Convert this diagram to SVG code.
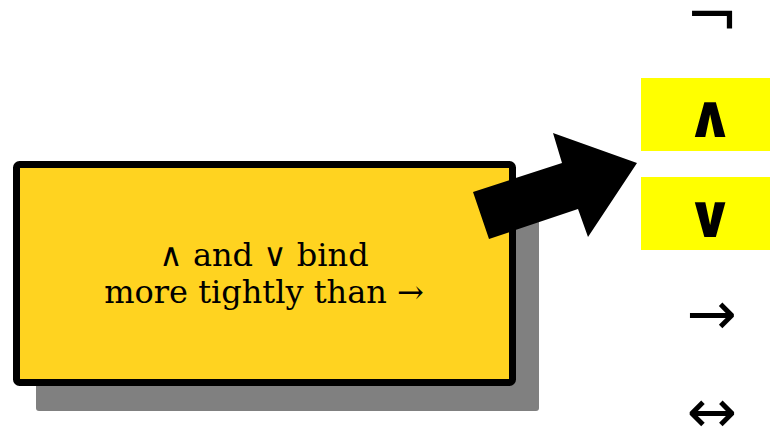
<svg xmlns="http://www.w3.org/2000/svg" width="770" height="428" viewBox="0 0 770 428">
<style>
.sym{font-family:"DejaVu Sans",sans-serif;font-size:60px;text-anchor:middle;fill:#000}
.b{font-weight:bold}
.lbl{font-family:"DejaVu Serif",serif;font-size:32px;text-anchor:middle;fill:#000}
.hl{fill:#ffff00}
</style>
<rect width="770" height="428" fill="#fff"/>
<g id="main">
<rect x="36" y="186" width="503" height="225" rx="3" fill="#808080"/>
<rect x="16.5" y="164.5" width="496" height="218" rx="3" fill="#ffd320" stroke="#000" stroke-width="7"/>
<text class="lbl" x="264" y="266">∧ and ∨ bind</text>
<text class="lbl" x="264" y="303">more tightly than →</text>
</g>
<g id="connectors">
<polygon points="473,192 562,163 553,133 637,163 588,237 578,209 489,239" fill="#000"/>
</g>
<g id="not"><text class="sym" x="712" y="38" style="font-size:64px">¬</text></g>
<g id="and"><rect class="hl" x="641" y="78" width="129" height="73"/><text class="sym b" x="710" y="137">∧</text></g>
<g id="or"><rect class="hl" x="641" y="177" width="129" height="73"/><text class="sym b" x="710" y="237">∨</text></g>
<g id="imp"><text class="sym" x="712" y="334">→</text></g>
<g id="iff"><text class="sym" x="712" y="432">↔</text></g>
</svg>
